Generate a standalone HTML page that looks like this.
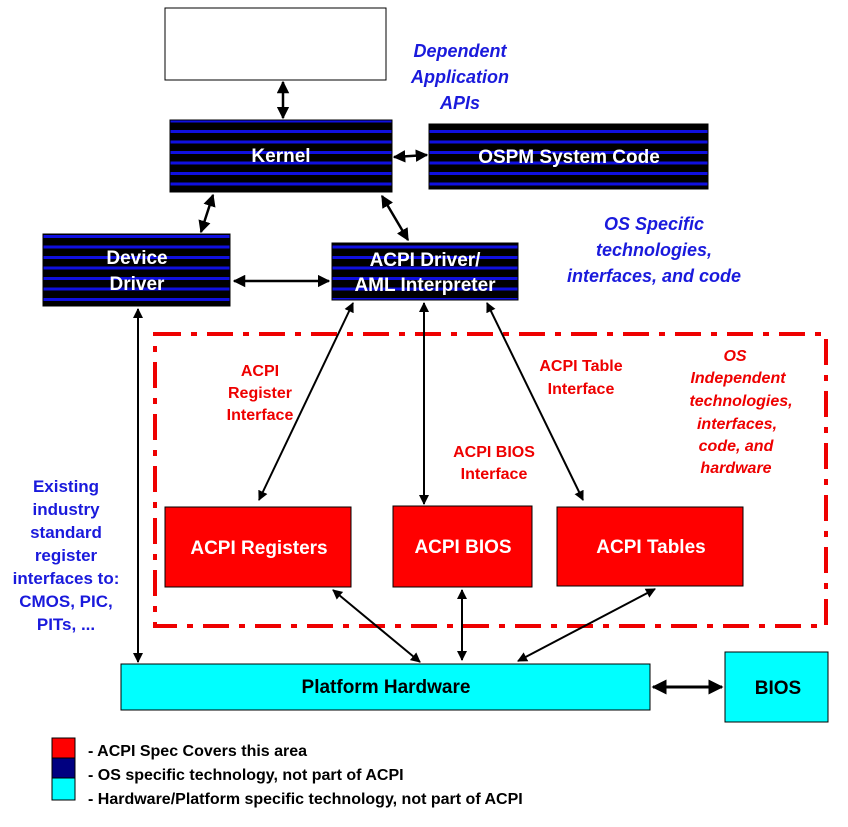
<!DOCTYPE html>
<html><head><meta charset="utf-8"><style>html,body{margin:0;padding:0;background:#fff}svg{display:block}</style></head>
<body>
<svg width="848" height="827" viewBox="0 0 848 827" xmlns="http://www.w3.org/2000/svg" font-family="Liberation Sans, Arial, sans-serif" font-weight="bold">
<defs>
<pattern id="st" width="10" height="10.5" patternUnits="userSpaceOnUse">
<rect width="10" height="10.5" fill="#000"/><rect y="4" width="10" height="3" fill="#1010e0"/>
</pattern>
<marker id="a" viewBox="0 0 10 10" refX="9" refY="5" markerWidth="5" markerHeight="5" orient="auto-start-reverse"><path d="M0,0 L10,5 L0,10 z" fill="#000"/></marker>
</defs>

<rect x="165" y="8" width="221" height="72" fill="#fff" stroke="#000"/>
<rect x="170" y="120" width="222" height="72" fill="url(#st)" stroke="#000"/>
<rect x="429" y="124" width="279" height="65" fill="url(#st)" stroke="#000"/>
<rect x="43" y="234" width="187" height="72" fill="url(#st)" stroke="#000"/>
<rect x="332" y="243" width="186" height="57" fill="url(#st)" stroke="#000"/>

<g fill="#fff" font-size="19" text-anchor="middle">
<text x="281" y="162">Kernel</text>
<text x="569" y="163">OSPM System Code</text>
<text x="137" y="264">Device</text>
<text x="137" y="290">Driver</text>
<text x="425" y="266">ACPI Driver/</text>
<text x="425" y="291">AML Interpreter</text>
</g>

<rect x="155" y="334" width="671" height="292" fill="none" stroke="#e00" stroke-width="4" stroke-dasharray="26,10,6,10"/>

<rect x="165" y="507" width="186" height="80" fill="#f00" stroke="#000"/>
<rect x="393" y="506" width="139" height="81" fill="#f00" stroke="#000"/>
<rect x="557" y="507" width="186" height="79" fill="#f00" stroke="#000"/>
<g fill="#fff" font-size="19" text-anchor="middle">
<text x="259" y="554">ACPI Registers</text>
<text x="463" y="553">ACPI BIOS</text>
<text x="651" y="553">ACPI Tables</text>
</g>

<rect x="121" y="664" width="529" height="46" fill="#00ffff" stroke="#000"/>
<rect x="725" y="652" width="103" height="70" fill="#00ffff" stroke="#000"/>
<text x="386" y="693" font-size="19" text-anchor="middle">Platform Hardware</text>
<text x="778" y="694" font-size="19" text-anchor="middle">BIOS</text>

<g stroke="#000" stroke-width="2" marker-start="url(#a)" marker-end="url(#a)" fill="none">
<line x1="283" y1="82" x2="283" y2="118" stroke-width="2.5"/>
<line x1="394" y1="157" x2="427" y2="155" stroke-width="2.5"/>
<line x1="213" y1="195" x2="201" y2="232" stroke-width="2.5"/>
<line x1="382" y1="196" x2="408" y2="240" stroke-width="2.5"/>
<line x1="234" y1="281" x2="329" y2="281" stroke-width="2.5"/>
<line x1="353" y1="303" x2="259" y2="500"/>
<line x1="424" y1="303" x2="424" y2="504"/>
<line x1="487" y1="303" x2="583" y2="500"/>
<line x1="138" y1="309" x2="138" y2="662"/>
<line x1="333" y1="590" x2="420" y2="662"/>
<line x1="462" y1="590" x2="462" y2="660"/>
<line x1="655" y1="589" x2="518" y2="661"/>
<line x1="653" y1="687" x2="722" y2="687" stroke-width="3"/>
</g>

<g fill="#1a1adc" font-style="italic" font-size="18" text-anchor="middle">
<text x="460" y="57">Dependent</text>
<text x="460" y="83">Application</text>
<text x="460" y="109">APIs</text>
<text x="654" y="230">OS Specific</text>
<text x="654" y="256">technologies,</text>
<text x="654" y="282">interfaces, and code</text>
</g>
<g fill="#1a1adc" font-size="17" text-anchor="middle">
<text x="66" y="492">Existing</text>
<text x="66" y="515">industry</text>
<text x="66" y="538">standard</text>
<text x="66" y="561">register</text>
<text x="66" y="584">interfaces to:</text>
<text x="66" y="607">CMOS, PIC,</text>
<text x="66" y="630">PITs, ...</text>
</g>
<g fill="#e00" font-size="16" text-anchor="middle">
<text x="260" y="376">ACPI</text>
<text x="260" y="398">Register</text>
<text x="260" y="420">Interface</text>
<text x="581" y="371">ACPI Table</text>
<text x="581" y="394">Interface</text>
<text x="494" y="457">ACPI  BIOS</text>
<text x="494" y="479">Interface</text>
</g>
<g fill="#e00" font-size="16" font-style="italic" text-anchor="middle">
<text x="735" y="361">OS</text>
<text x="738" y="383">Independent</text>
<text x="741" y="406">technologies,</text>
<text x="737" y="429">interfaces,</text>
<text x="736" y="451">code, and</text>
<text x="736" y="473">hardware</text>
</g>

<rect x="52" y="738" width="23" height="20" fill="#f00" stroke="#000"/>
<rect x="52" y="758" width="23" height="20" fill="#000080" stroke="#000"/>
<rect x="52" y="778" width="23" height="22" fill="#00ffff" stroke="#000"/>
<g fill="#000" font-size="16">
<text x="88" y="756">-  ACPI Spec Covers this area</text>
<text x="88" y="780">-  OS specific technology, not part of ACPI</text>
<text x="88" y="804">-  Hardware/Platform specific technology, not part of ACPI</text>
</g>
</svg>
</body></html>
